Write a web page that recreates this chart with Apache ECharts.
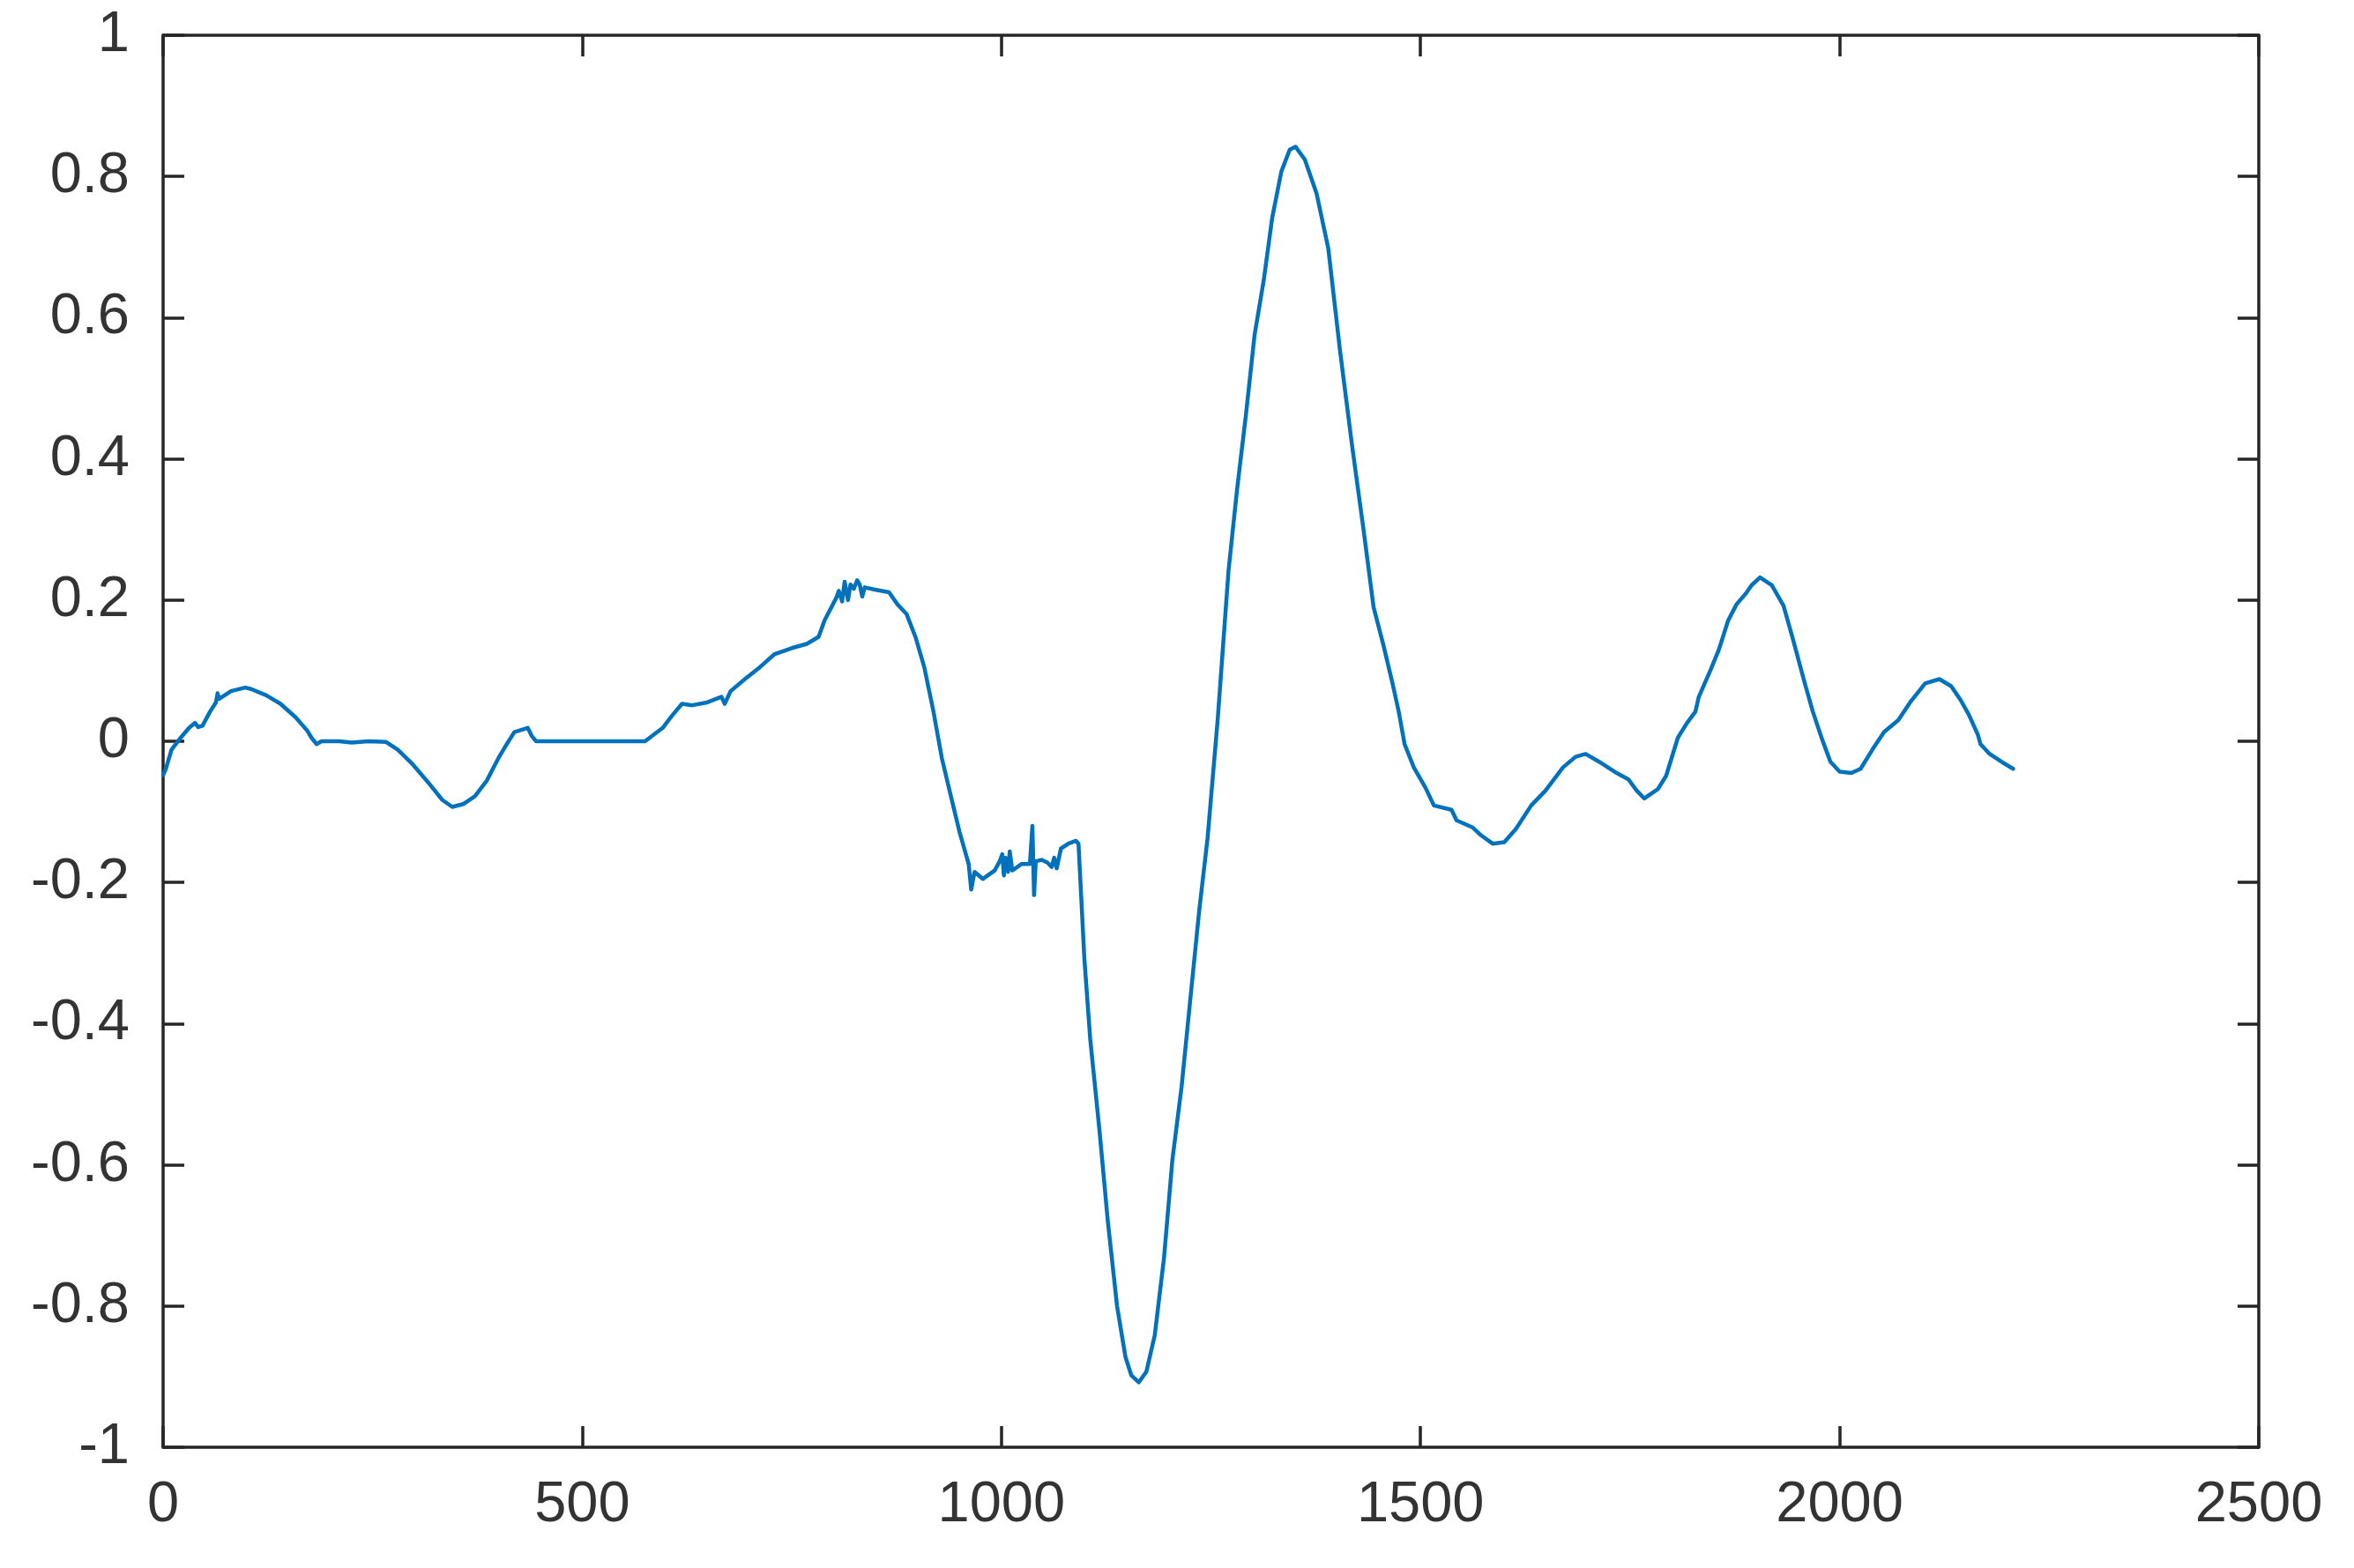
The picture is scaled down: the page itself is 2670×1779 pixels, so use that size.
<!DOCTYPE html>
<html>
<head>
<meta charset="utf-8">
<script src="https://cdn.jsdelivr.net/npm/echarts@6/dist/echarts.min.js"></script>
<style>
html,body{margin:0;padding:0;background:#fff;}
#chart{width:2670px;height:1779px;}
</style>
</head>
<body>
<div id="chart"></div>
<script>
// Sample positions (x) and signal values (y)
const xs = [0,3,10,21,31,38,42,47,56,63,65,67,81,98,105,123,140,158,172,177,183,189,210,225,245,266,280,298,316,333,345,358,372,386,400,410,419,435,440,445,480,526,575,596,607,619,631,649,666,670,677,694,712,729,750,768,782,789,803,806,810,813,817,820,824,828,831,834,837,848,866,876,887,898,908,919,929,940,950,961,964,968,978,992,998,1001,1003,1005,1008,1010,1013,1024,1034,1037,1039,1041,1048,1055,1060,1063,1066,1071,1080,1089,1092,1099,1106,1117,1127,1138,1148,1155,1164,1173,1183,1194,1204,1215,1225,1236,1246,1258,1271,1281,1292,1302,1313,1323,1334,1344,1351,1362,1376,1390,1404,1418,1432,1444,1456,1467,1474,1481,1492,1506,1516,1537,1543,1562,1572,1586,1600,1614,1632,1649,1670,1685,1697,1713,1734,1748,1758,1767,1783,1793,1807,1818,1828,1832,1846,1856,1867,1877,1888,1895,1905,1919,1933,1944,1958,1968,1979,1989,2000,2014,2025,2039,2053,2070,2084,2102,2119,2133,2144,2154,2165,2168,2179,2193,2207];
const ys = [-0.048,-0.040,-0.012,0.005,0.019,0.026,0.020,0.022,0.042,0.055,0.068,0.060,0.071,0.076,0.074,0.065,0.053,0.034,0.015,0.005,-0.004,0.0,0.0,-0.002,0.0,-0.001,-0.012,-0.033,-0.058,-0.083,-0.093,-0.089,-0.078,-0.056,-0.024,-0.004,0.013,0.019,0.007,0.0,0.0,0.0,0.0,0.019,0.036,0.053,0.051,0.055,0.063,0.053,0.071,0.088,0.105,0.123,0.132,0.138,0.148,0.171,0.203,0.213,0.198,0.226,0.200,0.222,0.216,0.228,0.222,0.205,0.218,0.215,0.211,0.194,0.180,0.146,0.105,0.042,-0.024,-0.079,-0.128,-0.174,-0.210,-0.185,-0.195,-0.183,-0.170,-0.160,-0.190,-0.165,-0.185,-0.156,-0.183,-0.174,-0.174,-0.120,-0.218,-0.170,-0.168,-0.172,-0.178,-0.165,-0.180,-0.152,-0.145,-0.141,-0.145,-0.308,-0.422,-0.551,-0.680,-0.800,-0.872,-0.898,-0.908,-0.893,-0.841,-0.732,-0.593,-0.489,-0.370,-0.240,-0.137,0.030,0.242,0.355,0.465,0.575,0.653,0.741,0.807,0.838,0.842,0.824,0.776,0.698,0.553,0.422,0.300,0.190,0.135,0.080,0.042,-0.004,-0.037,-0.066,-0.091,-0.097,-0.112,-0.122,-0.133,-0.145,-0.143,-0.124,-0.091,-0.070,-0.037,-0.022,-0.018,-0.029,-0.045,-0.054,-0.070,-0.081,-0.068,-0.049,0.005,0.026,0.042,0.063,0.101,0.130,0.171,0.194,0.209,0.221,0.232,0.221,0.192,0.146,0.084,0.042,0.003,-0.029,-0.043,-0.045,-0.039,-0.012,0.013,0.030,0.055,0.082,0.088,0.078,0.059,0.038,0.009,-0.004,-0.018,-0.029,-0.039];

// Axis ranges and tick steps
const xMin = 0, xMax = 2500, xStep = 500;
const yMin = -1, yMax = 1, yStep = 0.2;

const points = xs.map((x, i) => [x, ys[i]]);

const axisColor = '#262626';
const labelColor = '#333333';
const fontFamily = '"Liberation Sans", Arial, Helvetica, sans-serif';
const fontSize = 65;

function baseX(pos, showLabel) {
  return {
    type: 'value', position: pos, min: xMin, max: xMax, interval: xStep,
    axisLine: { show: true, onZero: false, lineStyle: { color: axisColor, width: 3.5 } },
    axisTick: { show: true, inside: true, length: 24, lineStyle: { color: axisColor, width: 3.5 } },
    axisLabel: { show: showLabel, color: labelColor, fontSize: fontSize, fontFamily: fontFamily, margin: 34,
      formatter: v => String(Math.round(v)) },
    splitLine: { show: false }
  };
}
function baseY(pos, showLabel) {
  return {
    type: 'value', position: pos, min: yMin, max: yMax, interval: yStep,
    axisLine: { show: true, onZero: false, lineStyle: { color: axisColor, width: 3.5 } },
    axisTick: { show: true, inside: true, length: 24, lineStyle: { color: axisColor, width: 3.5 } },
    axisLabel: {
      show: showLabel, color: labelColor, fontSize: fontSize, fontFamily: fontFamily, margin: 38,
      formatter: v => String(Math.round(v * 10) / 10)
    },
    splitLine: { show: false }
  };
}

const chart = echarts.init(document.getElementById('chart'), null, { renderer: 'canvas' });
chart.setOption({
  animation: false,
  backgroundColor: '#ffffff',
  grid: { left: 185, right: 108, top: 40, bottom: 137, containLabel: false },
  xAxis: [baseX('bottom', true), baseX('top', false)],
  yAxis: [baseY('left', true), baseY('right', false)],
  series: [{
    type: 'line',
    xAxisIndex: 0, yAxisIndex: 0,
    data: points,
    showSymbol: false,
    symbol: 'none',
    smooth: false,
    lineStyle: { color: '#0072BD', width: 4.5, join: 'round', cap: 'round' },
    clip: true
  }]
});
</script>
</body>
</html>
